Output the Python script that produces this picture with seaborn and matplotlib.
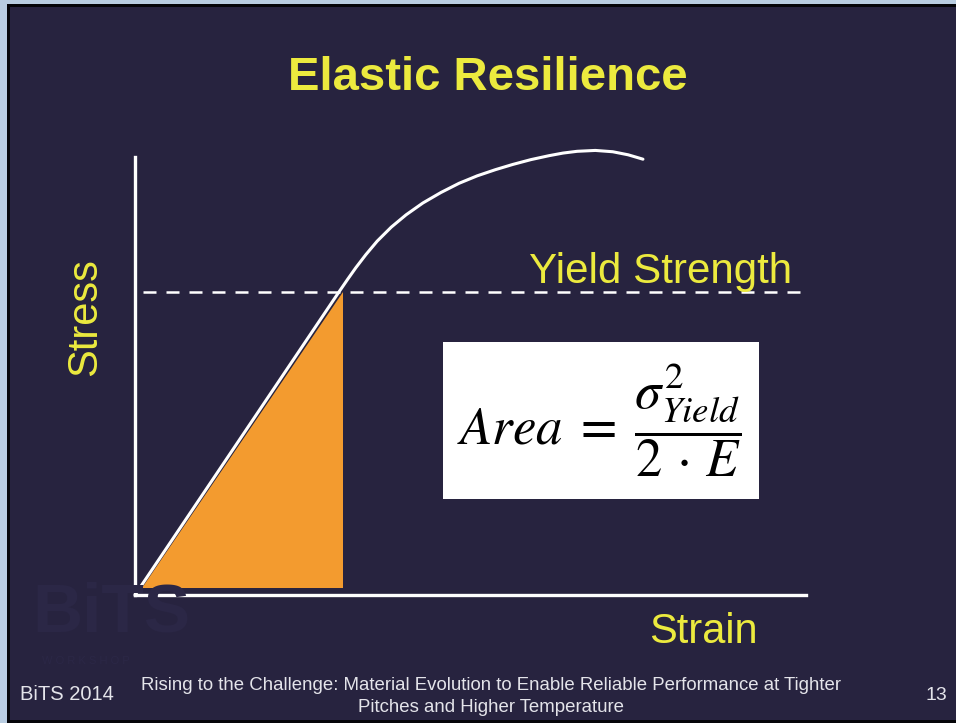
import matplotlib
matplotlib.use("Agg")
import matplotlib.pyplot as plt
from matplotlib.patches import Rectangle
import seaborn as sns
import pandas as pd

# Stress-strain curve (normalised units: 1.0 = end of each drawn axis)
strain = [0.0, 0.304, 0.317, 0.329, 0.344, 0.361, 0.382, 0.404, 0.429, 0.456, 0.483,
          0.510, 0.537, 0.563, 0.590, 0.617, 0.638, 0.659, 0.686, 0.712, 0.735, 0.757]
stress = [0.0, 0.692, 0.721, 0.747, 0.777, 0.808, 0.840, 0.868, 0.895, 0.919, 0.940,
          0.957, 0.971, 0.983, 0.994, 1.003, 1.009, 1.013, 1.015, 1.012, 1.005, 0.995]

# Yield point bounding the elastic (resilience) triangle
yield_strain = 0.310
yield_stress = 0.692

title_text = "Elastic Resilience"
yield_label = "Yield Strength"
x_label = "Strain"
y_label = "Stress"
formula = r"$Area\;=\;\dfrac{\sigma^{2}_{Yield}}{2\,\cdot\, E}$"
footer_left = "BiTS 2014"
footer_center = ["Rising to the Challenge: Material Evolution to Enable Reliable Performance at Tighter",
                 "Pitches and Higher Temperature"]
footer_right = "13"

sns.set_style("white")
plt.rcParams["font.family"] = ["Liberation Sans", "DejaVu Sans"]
plt.rcParams["mathtext.fontset"] = "stix"

W, H = 956, 723
BG = "#27233F"
YELLOW = "#ECEA3E"
ORANGE = "#F39B2F"

fig = plt.figure(figsize=(W / 100, H / 100), dpi=100)
fig.patch.set_facecolor("#B9CDE1")


def fx(px):
    return px / W


def fy(py):
    return 1 - py / H


def frect(x0, y0, x1, y1, **kw):
    fig.add_artist(Rectangle((fx(x0), fy(y1)), fx(x1 - x0), (y1 - y0) / H,
                             transform=fig.transFigure, **kw))


# slide frame and background
frect(7, 4, W, H, facecolor="#050509", edgecolor="none", zorder=0)
frect(10, 7, W, H - 3, facecolor=BG, edgecolor="none", zorder=0)
# faint workshop logo in the lower left
fig.text(fx(32), fy(632), "BiTS", fontsize=50, fontweight="bold", color="#2B2746",
         ha="left", va="baseline", zorder=1)
fig.text(fx(42), fy(664), "W O R K S H O P", fontsize=8, color="#2B2746",
         ha="left", va="baseline", zorder=1)

# chart axes: origin at the lower-left corner of the white axis lines
ax = fig.add_axes([fx(135), fy(595), fx(806 - 135), (595 - 157) / H])
ax.set_xlim(0, 1)
ax.set_ylim(0, 1)
ax.patch.set_alpha(0)
for side in ("top", "right"):
    ax.spines[side].set_visible(False)
for side in ("left", "bottom"):
    ax.spines[side].set_color("white")
    ax.spines[side].set_linewidth(2.4)
    ax.spines[side].set_zorder(5)
ax.set_xticks([])
ax.set_yticks([])

# elastic region under the curve up to the yield point
base = 0.016
ax.fill([base * yield_strain / yield_stress + 0.003, yield_strain, yield_strain],
        [base, base, yield_stress], color=ORANGE, lw=0, zorder=2)

# yield strength level
ax.plot([0.012, 1.0], [yield_stress, yield_stress], color="white", lw=1.8,
        linestyle=(0, (5.2, 4.0)), zorder=3, clip_on=False)

# stress-strain curve
curve = pd.DataFrame({"strain": strain, "stress": stress})
sns.lineplot(data=curve, x="strain", y="stress", sort=False, color="white",
             lw=2.2, ax=ax, zorder=4, clip_on=False)
ax.set_xlabel("")
ax.set_ylabel("")

# texts
fig.text(fx(488), fy(90), title_text, fontsize=34, fontweight="bold", color=YELLOW,
         ha="center", va="baseline")
fig.text(fx(661), fy(283), yield_label, fontsize=30.3, color=YELLOW,
         ha="center", va="baseline")
fig.text(fx(703), fy(643), x_label, fontsize=30, color=YELLOW,
         ha="center", va="baseline")
fig.text(fx(96), fy(317), y_label, fontsize=30, color=YELLOW, rotation=90,
         ha="center", va="baseline", rotation_mode="anchor")

# formula box
frect(443, 342, 759, 499, facecolor="white", edgecolor="none", zorder=3)
fig.text(fx(599), fy(420), formula, fontsize=38, color="black",
         ha="center", va="center", zorder=4)

# footer
FOOT = "#E4E4EA"
fig.text(fx(20), fy(700), footer_left, fontsize=14.5, color=FOOT, ha="left", va="baseline")
fig.text(fx(491), fy(690), footer_center[0], fontsize=13.4, color=FOOT, ha="center", va="baseline")
fig.text(fx(491), fy(712), footer_center[1], fontsize=13.4, color=FOOT, ha="center", va="baseline")
fig.text(fx(947), fy(700), footer_right, fontsize=14, color=FOOT, ha="right", va="baseline")

fig.savefig("out.png", dpi=100, facecolor=fig.get_facecolor())
